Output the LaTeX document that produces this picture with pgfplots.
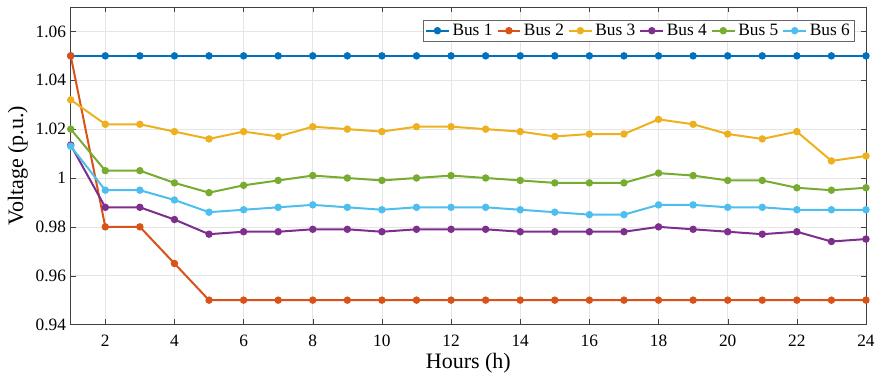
\documentclass[border=0pt]{standalone}
\usepackage{pgfplots}
\pgfplotsset{compat=1.18}
\usepackage{fontspec}
\setmainfont{Liberation Serif}
\definecolor{c1}{rgb}{0,0.447,0.741}
\definecolor{c2}{rgb}{0.85,0.325,0.098}
\definecolor{c3}{rgb}{0.929,0.694,0.125}
\definecolor{c4}{rgb}{0.494,0.184,0.556}
\definecolor{c5}{rgb}{0.466,0.674,0.188}
\definecolor{c6}{rgb}{0.301,0.745,0.933}
\pgfplotstableread{
h b1 b2 b3 b4 b5 b6
1 1.050 1.050 1.032 1.0135 1.020 1.013
2 1.050 0.980 1.022 0.988 1.003 0.995
3 1.050 0.980 1.022 0.988 1.003 0.995
4 1.050 0.965 1.019 0.983 0.998 0.991
5 1.050 0.950 1.016 0.977 0.994 0.986
6 1.050 0.950 1.019 0.978 0.997 0.987
7 1.050 0.950 1.017 0.978 0.999 0.988
8 1.050 0.950 1.021 0.979 1.001 0.989
9 1.050 0.950 1.020 0.979 1.000 0.988
10 1.050 0.950 1.019 0.978 0.999 0.987
11 1.050 0.950 1.021 0.979 1.000 0.988
12 1.050 0.950 1.021 0.979 1.001 0.988
13 1.050 0.950 1.020 0.979 1.000 0.988
14 1.050 0.950 1.019 0.978 0.999 0.987
15 1.050 0.950 1.017 0.978 0.998 0.986
16 1.050 0.950 1.018 0.978 0.998 0.985
17 1.050 0.950 1.018 0.978 0.998 0.985
18 1.050 0.950 1.024 0.980 1.002 0.989
19 1.050 0.950 1.022 0.979 1.001 0.989
20 1.050 0.950 1.018 0.978 0.999 0.988
21 1.050 0.950 1.016 0.977 0.999 0.988
22 1.050 0.950 1.019 0.978 0.996 0.987
23 1.050 0.950 1.007 0.974 0.995 0.987
24 1.050 0.950 1.009 0.975 0.996 0.987
}\data
\begin{document}
\begin{tikzpicture}
\begin{axis}[
  scale only axis,
  width=596pt, height=238pt,
  xmin=1, xmax=24, ymin=0.94, ymax=1.07,
  xtick={2,4,...,24},
  ytick={0.94,0.96,0.98,1,1.02,1.04,1.06},
  yticklabels={0.94,0.96,0.98,1,1.02,1.04,1.06},
  tick align=inside,
  tick pos=both,
  major tick length=4pt,
  grid=major,
  major grid style={black!10},
  axis line style={black!75},
  tick style={black!75},
  ticklabel style={font=\fontsize{13}{14}\selectfont},
  xticklabel style={yshift=-4.5pt},
  /pgf/number format/assume math mode=true,
  xlabel={Hours (h)},
  ylabel={Voltage (p.u.)},
  label style={font=\fontsize{16.5}{18}\selectfont},
  xlabel style={yshift=2pt},
  ylabel style={yshift=-1pt},
  legend columns=6,
  legend style={at={(0.985,0.96)}, anchor=north east, font=\fontsize{13}{14}\selectfont,
    draw=black!60, /tikz/every even column/.append style={column sep=1pt},
    inner sep=1pt, legend cell align=left},
  every axis plot/.append style={line width=1.5pt, mark=*, mark size=2pt},
]
\addplot[c1, mark options={fill=c1}] table[x=h,y=b1]{\data};
\addplot[c2, mark options={fill=c2}] table[x=h,y=b2]{\data};
\addplot[c3, mark options={fill=c3}] table[x=h,y=b3]{\data};
\addplot[c4, mark options={fill=c4}] table[x=h,y=b4]{\data};
\addplot[c5, mark options={fill=c5}] table[x=h,y=b5]{\data};
\addplot[c6, mark options={fill=c6}] table[x=h,y=b6]{\data};
\legend{Bus 1, Bus 2, Bus 3, Bus 4, Bus 5, Bus 6}
\coordinate (sw) at (rel axis cs:0,0);
\coordinate (ne) at (rel axis cs:1,1);
\end{axis}
\pgfresetboundingbox
\path[use as bounding box] ([xshift=-53pt,yshift=-42pt]sw) rectangle ([xshift=12pt,yshift=5.25pt]ne);
\end{tikzpicture}
\end{document}
